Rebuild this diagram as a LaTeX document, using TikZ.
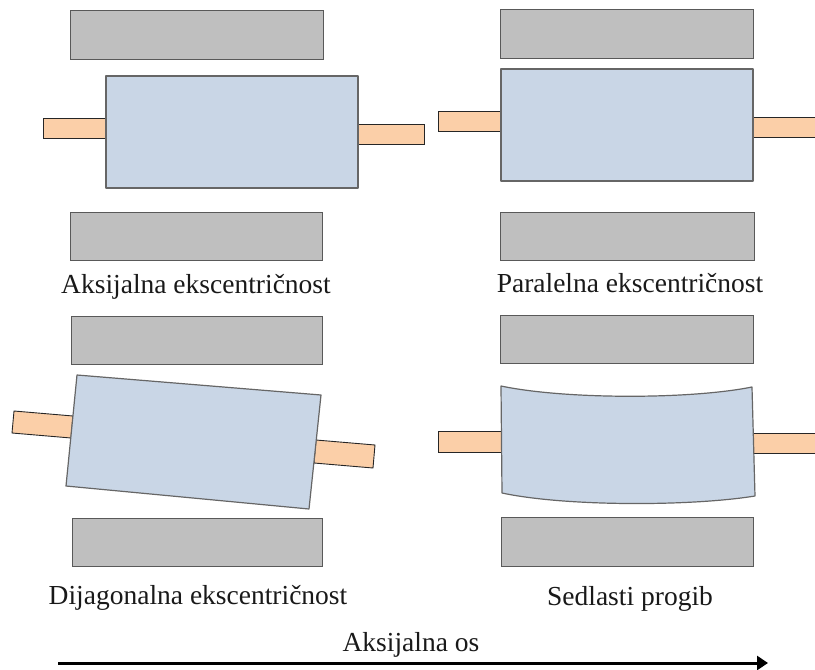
\documentclass[tikz,border=0pt]{standalone}
\usepackage{fontspec}
\setmainfont{Liberation Serif}
\usetikzlibrary{arrows.meta}
\definecolor{bearing}{HTML}{BFBFBF}
\definecolor{rotor}{HTML}{C9D6E6}
\definecolor{shaft}{HTML}{FBCFA8}
\tikzset{
  bearingbox/.style={draw=black!65,fill=bearing,line width=0.9pt},
  rotorbox/.style={draw=black!60,fill=rotor,line width=1.2pt,line join=round},
  shaftbox/.style={draw=black!85,fill=shaft,line width=0.9pt},
  caption/.style={font=\fontsize{27.5}{30}\selectfont,text=black!90,anchor=base,inner sep=0pt},
  axisline/.style={line width=3pt,-{Triangle[length=11pt,width=14pt]}}
}
\begin{document}
\begin{tikzpicture}[x=1pt,y=-1pt]
\useasboundingbox (0,0) rectangle (815,670);
% bearings
\draw[bearingbox] (70,10) rectangle (323,59);
\draw[bearingbox] (70,212) rectangle (322,260);
\draw[bearingbox] (500,9) rectangle (753,58);
\draw[bearingbox] (500,212) rectangle (754,260);
\draw[bearingbox] (71,316) rectangle (322,364);
\draw[bearingbox] (72,518) rectangle (322,566);
\draw[bearingbox] (500,315) rectangle (753,363);
\draw[bearingbox] (501,517) rectangle (753,566);
% axial
\draw[shaftbox] (43,118.5) rectangle (106,138.5);
\draw[shaftbox] (358,124) rectangle (424,144);
\draw[rotorbox] (106,76) rectangle (358,188);
% parallel
\draw[shaftbox] (438,111) rectangle (502,131);
\fill[shaft] (753,117) rectangle (815,137);
\draw[shaftbox,fill=none] (816,117) -- (753,117) -- (753,137) -- (816,137);
\draw[rotorbox] (501,69) rectangle (753,181);
% diagonal
\draw[shaftbox] (14,411) -- (73,416) -- (71,438) -- (12,433) -- cycle;
\draw[shaftbox] (316,440) -- (375,445) -- (373,468) -- (314,463) -- cycle;
\draw[rotorbox] (77,375) -- (321,395) -- (309,509) -- (66,486) -- cycle;
% saddle
\draw[shaftbox] (438,431) rectangle (502,452);
\fill[shaft] (753,433) rectangle (815,453);
\draw[shaftbox,fill=none] (816,433) -- (753,433) -- (753,453) -- (816,453);
\draw[rotorbox] (501,386) .. controls (565,399.5) and (690,399.5) .. (752,387)
  -- (755,496) .. controls (690,506.5) and (565,506.5) .. (502,493) -- cycle;
% captions
\node[caption] (capA) at (196,293) {Aksijalna ekscentričnost};
\node[caption] (capP) at (630,292) {Paralelna ekscentričnost};
\node[caption] (capD) at (198,604) {Dijagonalna ekscentričnost};
\node[caption] (capS) at (630,605) {Sedlasti progib};
\node[caption] (capO) at (411,651) {Aksijalna os};
% axis
\coordinate (axisL) at (58,663);
\coordinate (axisR) at (768,663);
\draw[axisline] (axisL) -- (axisR);
\end{tikzpicture}
\end{document}
